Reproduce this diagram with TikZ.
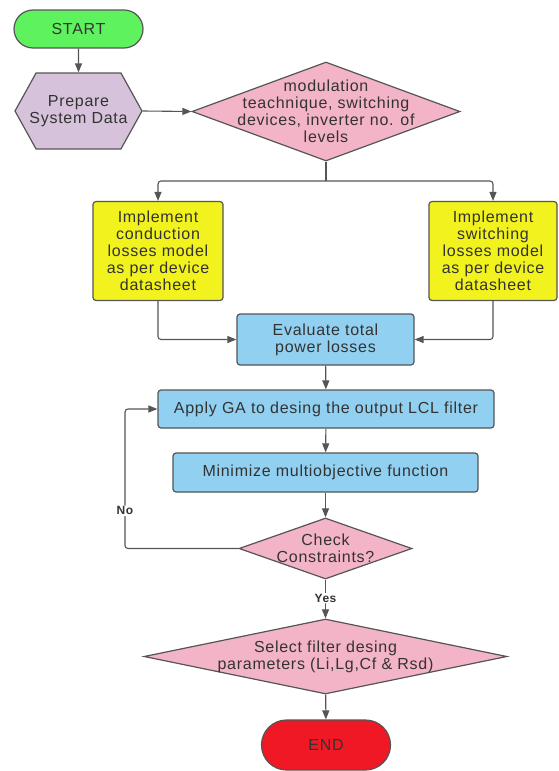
\documentclass[tikz,border=0pt]{standalone}
\usepackage{fontspec}
\setmainfont{Liberation Sans}[LetterSpace=4.5]
\usepackage{xcolor}
\usetikzlibrary{arrows.meta,shapes.geometric,shapes.symbols}
\definecolor{startgreen}{RGB}{94,242,94}
\definecolor{preplilac}{RGB}{214,195,219}
\definecolor{decpink}{RGB}{244,180,200}
\definecolor{implyellow}{RGB}{242,242,30}
\definecolor{procblue}{RGB}{145,208,240}
\definecolor{endred}{RGB}{240,24,36}
\definecolor{edgegray}{RGB}{85,85,85}
\definecolor{textgray}{RGB}{51,51,51}
\tikzset{
	flowbase/.style = {
		align = center,
		inner sep = 3pt,
		line width = 1.2pt,
		draw = edgegray,
		text = textgray,
		font = \fontsize{16}{17}\selectfont,
	},
	termblock/.style = {
		flowbase,
		rectangle,
		minimum width = 129pt,
		rounded corners = 19pt,
	},
	prepblock/.style = {
		flowbase,
		signal,
		signal to = west and east,
		signal pointer angle = 122,
		inner xsep = -10pt,
		fill = preplilac,
	},
	decblock/.style = {
		flowbase,
		diamond,
		inner xsep = -50pt,
		inner ysep = -12pt,
		fill = decpink,
	},
	implblock/.style = {
		flowbase,
		rectangle,
		rounded corners = 3pt,
		fill = implyellow,
	},
	procblock/.style = {
		flowbase,
		rectangle,
		rounded corners = 3pt,
		fill = procblue,
	},
	flowline/.style = {
		draw = edgegray,
		line width = 1.1pt,
		rounded corners = 3pt,
		-{Triangle[length=9pt,width=7pt]},
	},
	branchlabel/.style = {
		fill = white,
		inner sep = 1pt,
		text = textgray,
		font = \fontsize{12}{14}\selectfont\bfseries,
	}
}

\begin{document}
\begin{tikzpicture}[x = 1pt, y = -1pt]
	\useasboundingbox (0,0) rectangle (559,771);

	\node[termblock, fill = startgreen, minimum height = 38pt](start) at (78.5,29){START};
	\node[prepblock, minimum width = 127pt, minimum height = 76pt](prep) at (78.5,111){Prepare\\System Data};
	\node[decblock, aspect = 2.7, minimum width = 268pt, minimum height = 99pt](modsel) at (326,111.5){modulation\\teachnique, switching\\devices, inverter no. of\\levels};

	\node[implblock, minimum width = 130pt, minimum height = 99pt](condloss) at (158,251){Implement\\conduction\\losses model\\as per device\\datasheet};
	\node[implblock, minimum width = 128pt, minimum height = 99pt](swloss) at (493,251){Implement\\switching\\losses model\\as per device\\datasheet};
	\node[procblock, minimum width = 177pt, minimum height = 51pt](evalloss) at (325.5,339.5){Evaluate total\\power losses};

	\node[procblock, minimum width = 336pt, minimum height = 38pt](applyga) at (326,409){Apply GA to desing the output LCL filter};
	\node[procblock, minimum width = 305pt, minimum height = 39pt](minobj) at (325.5,472.5){Minimize multiobjective function};
	\node[decblock, aspect = 2.8, minimum width = 173pt, minimum height = 61pt](check) at (325.5,548.5){Check\\Constraints?};
	\node[decblock, aspect = 4.8, minimum width = 363pt, minimum height = 75pt](select) at (325.5,656.5){Select filter desing\\parameters (Li,Lg,Cf \& Rsd)};
	\node[termblock, fill = endred, minimum height = 50pt, rounded corners = 25pt](finish) at (326,745){END};

	\coordinate (split) at (326,181);
	\coordinate (loop) at (125,548.5);

	\draw[flowline](start)--(prep);
	\draw[flowline](prep.east)--(modsel.west);
	\draw[flowline,-](modsel.south)--(split);
	\draw[flowline](split)-|(condloss.north);
	\draw[flowline](split)-|(swloss.north);
	\draw[flowline](condloss.south)|-(evalloss.west);
	\draw[flowline](swloss.south)|-(evalloss.east);
	\draw[flowline](evalloss)--(applyga);
	\draw[flowline](applyga)--(minobj);
	\draw[flowline](minobj)--(check);
	\draw[flowline](check.west)--(loop)--node[branchlabel, pos = 0.27]{No}(loop |- applyga.west)--(applyga.west);
	\draw[flowline](check)--node[branchlabel, pos = 0.48]{Yes}(select);
	\draw[flowline](select)--(finish);
\end{tikzpicture}
\end{document}
